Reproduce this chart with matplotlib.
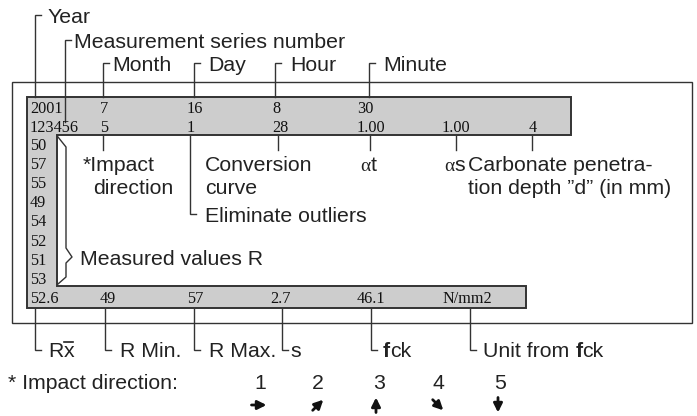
import matplotlib.pyplot as plt
from matplotlib.patches import Polygon, Rectangle

# values shown on the display
row1 = ['2001', '7', '16', '8', '30']
row2 = ['123456', '5', '1', '28', '1.00', '1.00', '4']
measured = ['50', '57', '55', '49', '54', '52', '51', '53']
bottom_row = ['52.6', '49', '57', '2.7', '46.1', 'N/mm2']
top_labels = ['Year', 'Measurement series number', 'Month', 'Day', 'Hour', 'Minute']
directions = ['1', '2', '3', '4', '5']

SANS = 'Liberation Sans'
SERIF = 'Liberation Serif'
INK = '#222222'
LINE = '#333333'
FS = 15.3      # label size
FS_NUM = 11.7  # display digits

fig = plt.figure(figsize=(6.97, 4.16), dpi=100)
ax = fig.add_axes([0, 0, 1, 1])
ax.set_xlim(0, 697)
ax.set_ylim(416, 0)
ax.axis('off')
rend = fig.canvas.get_renderer()


def runs(x, y, parts, size=FS):
    # write text pieces one after the other on the same baseline
    for s, kw in parts:
        kw = dict(kw)
        sz = kw.pop('fs', size)
        t = ax.text(x, y, s, fontsize=sz, va='baseline', ha='left',
                    color=INK, **kw)
        x += t.get_window_extent(rend).width
    return x


def space(size=FS):
    return 0.278 * size * 100 / 72


def leader(x, y_end, y_corner, dx=6):
    ax.plot([x, x, x + dx], [y_end, y_corner, y_corner], color=LINE, lw=1.0,
            solid_joinstyle='miter')


def stem(x, y0, y1):
    ax.plot([x, x], [y0, y1], color=LINE, lw=1.0)


# outer frame and the grey display
ax.add_patch(Rectangle((12, 82), 680, 241, fill=False, ec=LINE, lw=1.0))
ax.add_patch(Polygon([(27, 97), (571, 97), (571, 135), (57, 135), (57, 286),
                      (526, 286), (526, 308), (27, 308)],
                     closed=True, fc='#cdcdcd', ec=LINE, lw=1.4))

# numbers in the display
row1_x = [30, 100, 187, 272, 357]
row2_x = [30, 100, 187, 272, 357, 442, 529]
bottom_x = [30, 100, 187, 270, 357, 442]
for s, x in zip(row1, row1_x):
    ax.text(x, 113, s, fontsize=FS_NUM, family=SERIF, color='#111111', va='baseline')
for s, x in zip(row2, row2_x):
    ax.text(x, 132, s, fontsize=FS_NUM, family=SERIF, color='#111111', va='baseline')
for i, s in enumerate(measured):
    ax.text(30, 150 + i * 19.1, s, fontsize=FS_NUM, family=SERIF, color='#111111',
            va='baseline')
for s, x in zip(bottom_row, bottom_x):
    ax.text(x, 303, s, fontsize=FS_NUM, family=SERIF, color='#111111', va='baseline')

# labels above the display
top_line_x = [35, 65, 103, 194, 275, 369]
top_corner_y = [15, 40, 63, 63, 63, 63]
top_end_y = [97, 122, 97, 97, 97, 97]
top_text_x = [47, 74, 112, 208, 290, 383]
for lab, x, yc, ye, tx in zip(top_labels, top_line_x, top_corner_y, top_end_y,
                               top_text_x):
    leader(x, ye, yc)
    ax.text(tx, yc + 8, lab, fontsize=FS, family=SANS, color=INK, va='baseline')

# labels under the top bar
for x in [103, 278, 370, 456, 532]:
    stem(x, 136, 150)
leader(190, 136, 214)
runs(83, 171, [('*Impact', dict(family=SANS))])
runs(93, 194, [('direction', dict(family=SANS))])
runs(205, 171, [('Conversion', dict(family=SANS))])
runs(205, 194, [('curve', dict(family=SANS))])
runs(205, 222, [('Eliminate outliers', dict(family=SANS))])
runs(360, 171, [('α', dict(family=SERIF, fs=14)), ('t', dict(family=SANS))])
runs(444, 171, [('α', dict(family=SERIF, fs=14)), ('s', dict(family=SANS))])
runs(468, 171, [('Carbonate penetra-', dict(family=SANS))])
runs(468, 194, [('tion depth ”d” (in mm)', dict(family=SANS))])

# brace for the measured values
ax.plot([58, 66, 66, 72, 66, 66, 58], [137, 147, 248, 257, 263, 277, 284],
        color=LINE, lw=1.0)
runs(80, 265, [('Measured values R', dict(family=SANS))])

# labels below the display
bottom_line_x = [35, 105, 194, 282, 371, 470]
for x in bottom_line_x:
    leader(x, 309, 350)
x_end = runs(48, 357, [('R', dict(family=SANS))])
x_end2 = runs(x_end, 357, [('x', dict(family=SANS))])
ax.plot([x_end + 1, x_end2 - 1], [342, 342], color=INK, lw=1.2)
runs(120, 357, [('R Min.', dict(family=SANS))])
runs(209, 357, [('R Max.', dict(family=SANS))])
runs(290, 357, [('s', dict(family=SANS))])
runs(383, 357, [('f', dict(family=SANS, weight='bold')), ('ck', dict(family=SANS))])
xu = runs(483, 357, [('Unit from', dict(family=SANS))])
runs(xu + space(), 357, [('f', dict(family=SANS, weight='bold')),
                         ('ck', dict(family=SANS))])

# impact direction key
runs(8, 389, [('* Impact direction:', dict(family=SANS))])
dir_x = [260, 318, 379, 438, 500]
for s, x in zip(directions, dir_x):
    ax.text(x, 389, s, fontsize=FS, family=SANS, color=INK, va='baseline',
            ha='center')
arrow_x = [259, 318, 376, 438, 498]
arrow_dx = [1, 1, 0, 1, 0]
arrow_dy = [0, -1, -1, 1, 1]
for x, dx, dy in zip(arrow_x, arrow_dx, arrow_dy):
    n = (dx * dx + dy * dy) ** 0.5
    L = 15
    ux, uy = dx / n * L / 2, dy / n * L / 2
    ax.annotate('', xy=(x + ux, 405 + uy), xytext=(x - ux, 405 - uy),
                arrowprops=dict(arrowstyle='-|>', color='#111111', lw=2.0,
                                mutation_scale=13, shrinkA=0, shrinkB=0))

fig.savefig('out.png', dpi=100)
